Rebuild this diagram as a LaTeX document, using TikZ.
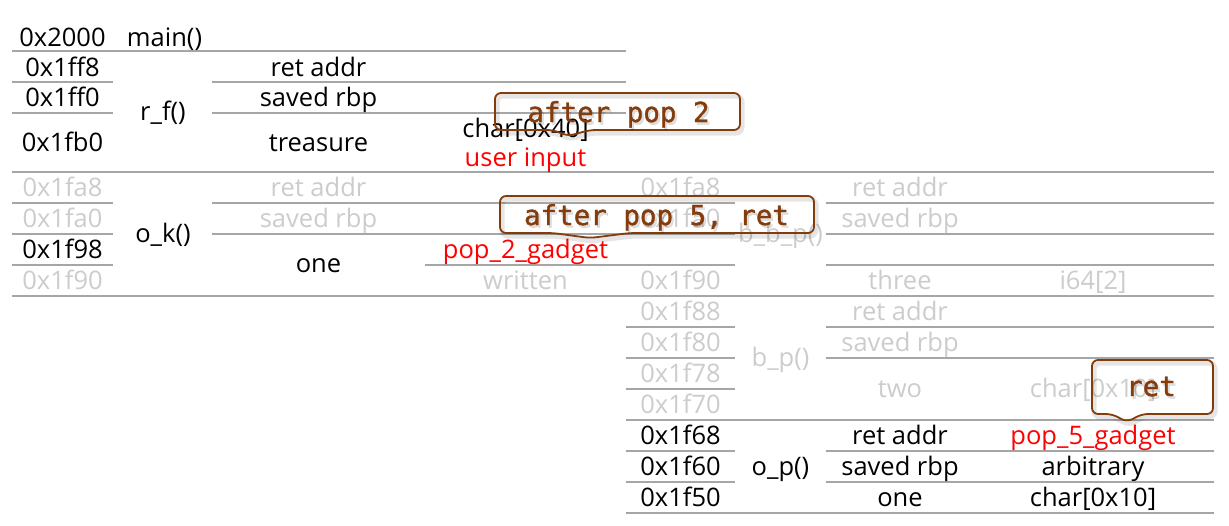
\documentclass[tikz,border=0pt]{standalone}
\usepackage{fontspec}
\setmainfont{Open Sans}
\newfontfamily\monofont[FakeBold=1.2]{DejaVu Sans Mono}
\definecolor{linegray}{HTML}{A6A6A6}
\definecolor{dimgray}{HTML}{CCCCCC}
\definecolor{hotred}{HTML}{FF0000}
\definecolor{callbrown}{HTML}{843C0C}
\newcommand{\tablefont}{\fontsize{25.5}{25.5}\selectfont}
\newcommand{\callfont}{\monofont\fontsize{27.5}{27.5}\selectfont}
\tikzset{
  cell/.style={font=\tablefont, inner sep=0pt, anchor=base, text=black},
  dim/.style={cell, text=dimgray},
  hot/.style={cell, text=hotred},
  grid/.style={draw=linegray, line width=1.2pt},
  callout/.style={draw=callbrown, line width=1.8pt, rounded corners=6pt,
    preaction={draw=black, draw opacity=0.10, line width=5pt,
      transform canvas={shift={(2pt,-3pt)}}}},
  calltext/.style={font=\callfont, text=callbrown, inner sep=0pt, anchor=base},
  callshadow/.style={font=\callfont, text=black, text opacity=0.12, inner sep=0pt, anchor=base}
}
\begin{document}
\begin{tikzpicture}[x=1pt,y=-1pt]
\useasboundingbox (0,0) rectangle (1229,525);

% ---------- grid lines: left table ----------
\draw[grid] (12,51) -- (626,51);
\draw[grid] (12,82) -- (113,82) (212,82) -- (626,82);
\draw[grid] (12,113) -- (113,113) (212,113) -- (626,113);
\draw[grid] (12,172) -- (1214,172);
\draw[grid] (12,203) -- (113,203) (212,203) -- (735,203) (826,203) -- (1214,203);
\draw[grid] (12,234) -- (113,234) (212,234) -- (735,234) (826,234) -- (1214,234);
\draw[grid] (12,265) -- (113,265) (425,265) -- (735,265) (826,265) -- (1214,265);
\draw[grid] (12,296) -- (1214,296);
% ---------- grid lines: right table ----------
\draw[grid] (626,327) -- (735,327) (826,327) -- (1214,327);
\draw[grid] (626,358) -- (735,358) (826,358) -- (1214,358);
\draw[grid] (626,389) -- (735,389);
\draw[grid] (626,420) -- (1214,420);
\draw[grid] (626,451) -- (735,451) (826,451) -- (1214,451);
\draw[grid] (626,482) -- (735,482) (826,482) -- (1214,482);
\draw[grid] (626,513) -- (1214,513);

% ---------- left table text ----------
\node[cell] (a2000) at (62.5,46) {0x2000};
\node[cell] (fmain) at (164.5,46) {main()};

\node[cell] (a1ff8) at (62.5,76) {0x1ff8};
\node[cell] (rfret) at (318.5,76) {ret addr};
\node[cell] (a1ff0) at (62.5,106) {0x1ff0};
\node[cell] (rfrbp) at (318.5,106) {saved rbp};
\node[cell] (a1fb0) at (62.5,151) {0x1fb0};
\node[cell] (rftre) at (318.5,151) {treasure};
\node[cell] (rfty) at (525.5,137) {char[0x40]};
\node[hot] (rfin) at (525.5,166) {user input};
\node[cell] (frf) at (163,120) {r\_f()};

\node[dim] (a1fa8) at (62.5,196) {0x1fa8};
\node[dim] (okret) at (318.5,196) {ret addr};
\node[dim] (a1fa0) at (62.5,227) {0x1fa0};
\node[dim] (okrbp) at (318.5,227) {saved rbp};
\node[cell] (a1f98) at (62.5,258) {0x1f98};
\node[hot] (okp2) at (525.5,258) {pop\_2\_gadget};
\node[dim] (a1f90) at (62.5,289) {0x1f90};
\node[dim] (okwr) at (525.5,289) {written};
\node[cell] (okone) at (318.5,272) {one};
\node[cell] (fok) at (163,242.5) {o\_k()};

% ---------- right table text ----------
\node[dim] (r1fa8) at (680.5,196) {0x1fa8};
\node[dim] (bbret) at (900,196) {ret addr};
\node[dim] (r1fa0) at (680.5,227) {0x1fa0};
\node[dim] (bbrbp) at (900,227) {saved rbp};
\node[dim] (r1f90) at (680.5,289) {0x1f90};
\node[dim] (bbthree) at (900,289) {three};
\node[dim] (bbty) at (1093,289) {i64[2]};
\node[dim] (fbbp) at (780.5,242.5) {b\_b\_p()};

\node[dim] (r1f88) at (680.5,320) {0x1f88};
\node[dim] (bpret) at (900,320) {ret addr};
\node[dim] (r1f80) at (680.5,351) {0x1f80};
\node[dim] (bprbp) at (900,351) {saved rbp};
\node[dim] (r1f78) at (680.5,382) {0x1f78};
\node[dim] (r1f70) at (680.5,413) {0x1f70};
\node[dim] (bptwo) at (900,397.5) {two};
\node[dim] (bpty) at (1093,397.5) {char[0x10]};
\node[dim] (fbp) at (780.5,366.5) {b\_p()};

\node[cell] (r1f68) at (680.5,444) {0x1f68};
\node[cell] (opret) at (900,444) {ret addr};
\node[hot] (opp5) at (1093,444) {pop\_5\_gadget};
\node[cell] (r1f60) at (680.5,475) {0x1f60};
\node[cell] (oprbp) at (900,475) {saved rbp};
\node[cell] (oparb) at (1093,475) {arbitrary};
\node[cell] (r1f50) at (680.5,506) {0x1f50};
\node[cell] (opone) at (900,506) {one};
\node[cell] (opty) at (1093,506) {char[0x10]};
\node[cell] (fop) at (780.5,475) {o\_p()};

% ---------- callouts ----------
\draw[callout] (495,93) -- (740,93) -- (740,130) -- (590,130) -- (568,136) -- (553,130) -- (495,130) -- cycle;
\node[callshadow] (c1s) at (620.5,124.5) {after pop 2};
\node[calltext] (c1) at (618.5,122) {after pop 2};

\draw[callout] (500,196) -- (814,196) -- (814,233) -- (630,233) -- (590,238) -- (553,233) -- (500,233) -- cycle;
\node[callshadow] (c2s) at (658.5,227.5) {after pop 5, ret};
\node[calltext] (c2) at (656.5,225) {after pop 5, ret};

\draw[callout] (1092,360) -- (1213,360) -- (1213,414) -- (1142,414) -- (1127,422) -- (1112,414) -- (1092,414) -- cycle;
\node[callshadow] (c3s) at (1153,398.5) {ret};
\node[calltext] (c3) at (1151,396) {ret};
\end{tikzpicture}
\end{document}
